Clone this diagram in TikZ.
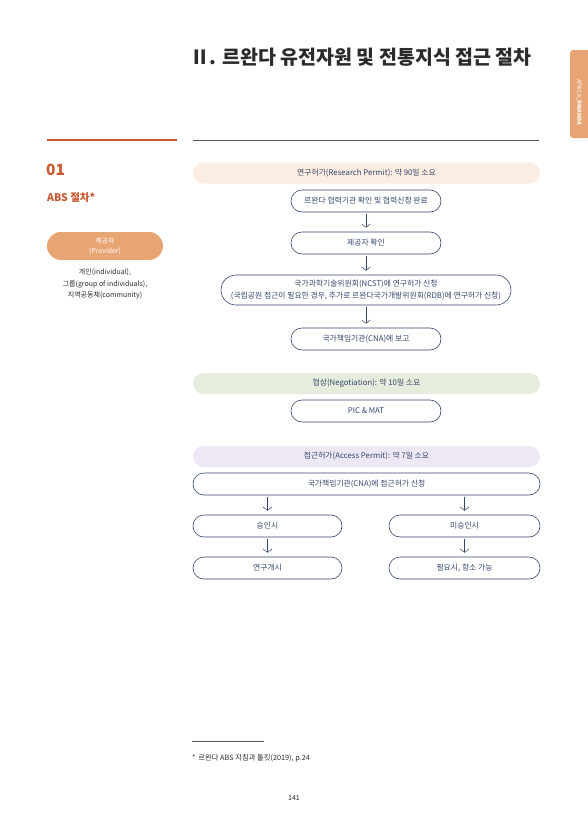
\documentclass[tikz,border=0pt]{standalone}
\usepackage{fontspec}
\setmainfont{Noto Sans CJK KR}
\usetikzlibrary{arrows.meta}
\definecolor{Ink}{HTML}{2B2B2B}
\definecolor{Navy}{HTML}{34466B}
\definecolor{Rust}{HTML}{C9572F}
\definecolor{Apricot}{HTML}{E8A574}
\definecolor{Peach}{HTML}{FBEDE2}
\definecolor{Sage}{HTML}{E7EDDC}
\definecolor{Lilac}{HTML}{EDE8F4}
\definecolor{RuleGray}{HTML}{555555}

\begin{document}
\begin{tikzpicture}[x=1pt,y=-1pt,every node/.style={font=\fontsize{7.8}{9}\selectfont,text=Navy,inner sep=0pt},band/.style={rounded corners=10.5pt,minimum width=347pt,minimum height=21pt},stepbox/.style={draw=Navy,line width=0.6pt,fill=white,rounded corners=11pt,minimum height=22pt,minimum width=150pt,align=center},flow/.style={draw=Navy,line width=0.5pt,-{Straight Barb[length=3.5pt,width=9pt]},shorten <=2pt,shorten >=4pt}]
\useasboundingbox[fill=white] (0,0) rectangle (587,830);
% header
\node[font=\fontsize{19.5}{20}\selectfont\bfseries,text=Ink] (title) at (361,57) {Ⅱ. 르완다 유전자원 및 전통지식 접근 절차};
\fill[Apricot,rounded corners=3pt] (570,50) rectangle (595,138);
\node[rotate=-90,text=white,font=\fontsize{5.5}{6}\selectfont] (tab) at (579,102) {AFRICA\_{\bfseries RWANDA}};
\draw[Rust,line width=1.8pt] (47,140)--(177,140);\draw[RuleGray,line width=0.7pt] (193,140)--(539,140);

% left column
\node[anchor=west,text=Rust,font=\fontsize{15.5}{16}\selectfont\bfseries] (num) at (46,170) {01};
\node[anchor=west,text=Rust,font=\fontsize{10.5}{11}\selectfont\bfseries] (abs) at (47,198) {ABS 절차*};
\node[fill=Apricot,rounded corners=14pt,minimum width=116pt,minimum height=28pt,align=center,text=white,font=\fontsize{6.8}{10}\selectfont] (prov) at (105,246) {제공자\\(Provider)};
\node[align=center,text=Ink,font=\fontsize{7}{11.5}\selectfont] (who) at (105,284) {개인(individual),\\그룹(group of individuals),\\지역공동체(community)};

% research permit
\node[band,fill=Peach] (rp) at (366.5,173) {연구허가(Research Permit): 약 90일 소요};
\node[stepbox] (coop) at (366,201) {르완다 협력기관 확인 및 협력신청 완료};
\node[stepbox] (chk) at (366,243) {제공자 확인};
\node[stepbox,minimum width=290pt,minimum height=30pt,rounded corners=15pt,font=\fontsize{7.8}{11.5}\selectfont] (ncst) at (366,290) {국가과학기술위원회(NCST)에 연구허가 신청\\(국립공원 접근이 필요한 경우, 추가로 르완다국가개발위원회(RDB)에 연구허가 신청)};
\node[stepbox] (rep) at (366,339) {국가책임기관(CNA)에 보고};
\draw[flow] (coop)--(chk);\draw[flow] (chk)--(ncst);\draw[flow] (ncst)--(rep);

% negotiation
\node[band,fill=Sage] (neg) at (366.5,383.5) {협상(Negotiation): 약 10일 소요};
\node[stepbox] (pic) at (366,411) {PIC \& MAT};

% access permit
\node[band,fill=Lilac] (ap) at (366.5,456.5) {접근허가(Access Permit): 약 7일 소요};
\node[stepbox,minimum width=347pt] (cna) at (366.5,484) {국가책임기관(CNA)에 접근허가 신청};
\node[stepbox,minimum width=149pt] (ok) at (267.5,526) {승인시};\node[stepbox,minimum width=151pt] (no) at (464.5,526) {미승인시};
\node[stepbox,minimum width=149pt] (go) at (267.5,568) {연구개시};\node[stepbox,minimum width=151pt] (appeal) at (464.5,568) {필요시, 항소 가능};
\draw[flow] (cna.south -| ok)--(ok);\draw[flow] (cna.south -| no)--(no);\draw[flow] (ok)--(go);\draw[flow] (no)--(appeal);

% footer
\draw[RuleGray,line width=0.5pt] (192,741)--(264,741);
\node[anchor=west,text=Ink,font=\fontsize{7.3}{8}\selectfont] (note) at (192,758) {*\, 르완다 ABS 지침과 툴킷(2019), p.24};
\node[text=Ink,font=\fontsize{7}{8}\selectfont] (page) at (294,798) {141};
\end{tikzpicture}
\end{document}
